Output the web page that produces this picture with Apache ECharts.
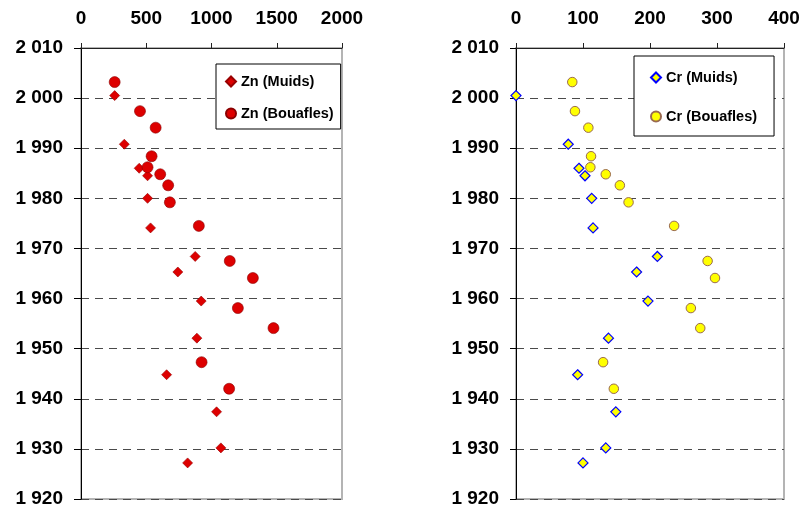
<!DOCTYPE html>
<html>
<head>
<meta charset="utf-8">
<script src="https://cdn.jsdelivr.net/npm/echarts@6/dist/echarts.min.js"></script>
<style>
html,body{margin:0;padding:0;background:#fff;}
#chart{width:803px;height:511px;}
</style>
</head>
<body>
<div id="chart"></div>
<script>
// Sampling years (depth-dated sediment layers)
const yearsMuids = [2000.5, 1990.8, 1986.0, 1984.5, 1980.0, 1974.1, 1968.4, 1965.3, 1959.5, 1952.1, 1944.8, 1937.4, 1930.2, 1927.2];
const yearsBouafles = [2003.2, 1997.4, 1994.1, 1988.4, 1986.2, 1984.8, 1982.6, 1979.2, 1974.5, 1967.5, 1964.1, 1958.1, 1954.1, 1947.3, 1942.0];

// Zn concentrations
const znMuids = [258, 332, 446, 510, 510, 533, 875, 742, 921, 888, 656, 1039, 1072, 817];
const znBouafles = [258, 452, 572, 541, 510, 607, 668, 681, 903, 1140, 1317, 1202, 1475, 924, 1135];

// Cr concentrations
const crMuids = [0, 78, 94, 103, 113, 115, 211, 180, 197, 138, 92, 149, 134, 100];
const crBouafles = [84, 88, 108, 112, 111, 134, 155, 168, 236, 286, 297, 261, 275, 130, 146];

const seriesNames = ['Zn (Muids)', 'Zn (Bouafles)', 'Cr (Muids)', 'Cr (Bouafles)'];

// Tick labels
const yTicks = [1920, 1930, 1940, 1950, 1960, 1970, 1980, 1990, 2000, 2010];
const yTickLabels = ['1 920', '1 930', '1 940', '1 950', '1 960', '1 970', '1 980', '1 990', '2 000', '2 010'];
const znTicks = ['0', '500', '1000', '1500', '2000'];
const crTicks = ['0', '100', '200', '300', '400'];

function pairs(xs, ys) { return xs.map((v, i) => [v, ys[i]]); }

const font = '"Liberation Sans", Arial, sans-serif';
const tickFont = { fontFamily: font, fontWeight: 'bold', fontSize: 19, color: '#000' };

function yAxisDef(gridIndex, margin, tickLen) {
  return {
    type: 'value', gridIndex: gridIndex, min: 1920, max: 2010, interval: 10,
    axisLine: { show: true, lineStyle: { color: '#000', width: 1 } },
    axisTick: { show: true, inside: false, length: tickLen, lineStyle: { color: '#000' } },
    axisLabel: Object.assign({ margin: margin, showMinLabel: true, showMaxLabel: true,
      formatter: v => { const k = yTicks.indexOf(Math.round(v)); return k >= 0 ? yTickLabels[k] : ''; } }, tickFont),
    splitLine: { show: true, lineStyle: { color: '#4a4a4a', width: 1, type: [8, 6] } }
  };
}
function xAxisDef(gridIndex, max, interval, labels) {
  return {
    type: 'value', gridIndex: gridIndex, position: 'top', min: 0, max: max, interval: interval,
    axisLine: { show: true, onZero: false, lineStyle: { color: '#222', width: 1 } },
    axisTick: { show: true, inside: false, length: 5, lineStyle: { color: '#222' } },
    axisLabel: Object.assign({ margin: 20, showMinLabel: true, showMaxLabel: true,
      formatter: v => { const k = Math.round(v / interval); return labels[k] !== undefined ? labels[k] : ''; } }, tickFont),
    splitLine: { show: false }
  };
}

const legendText = { fontFamily: font, fontWeight: 'bold', fontSize: 14.5, color: '#000', lineHeight: 14 };

const chart = echarts.init(document.getElementById('chart'), null, { renderer: 'canvas' });
chart.setOption({
  animation: false,
  backgroundColor: '#fff',
  grid: [
    { left: 81, top: 48, width: 261, height: 451, show: true, borderColor: '#b4b4b4', borderWidth: 2, backgroundColor: 'transparent' },
    { left: 516, top: 48, width: 268, height: 451, show: true, borderColor: '#b4b4b4', borderWidth: 2, backgroundColor: 'transparent' }
  ],
  xAxis: [
    xAxisDef(0, 2000, 500, znTicks),
    xAxisDef(1, 400, 100, crTicks)
  ],
  yAxis: [
    yAxisDef(0, 18, 7),
    yAxisDef(1, 17, 6)
  ],
  legend: [
    {
      data: [seriesNames[0], seriesNames[1]], orient: 'vertical', left: 216, top: 64,
      padding: [10, 7, 8, 9], itemWidth: 10, itemHeight: 10, itemGap: 17,
      borderColor: '#000', borderWidth: 1, backgroundColor: '#fff', selectedMode: false,
      textStyle: legendText
    },
    {
      data: [seriesNames[2], seriesNames[3]], orient: 'vertical', left: 634, top: 56,
      padding: [14, 17, 12, 16], itemWidth: 10, itemHeight: 10, itemGap: 24,
      borderColor: '#000', borderWidth: 1, backgroundColor: '#fff', selectedMode: false,
      textStyle: legendText
    }
  ],
  series: [
    { name: seriesNames[0], type: 'scatter', xAxisIndex: 0, yAxisIndex: 0, symbol: 'diamond', symbolSize: 10,
      itemStyle: { color: '#dd0000', borderColor: '#990000', borderWidth: 0.6, opacity: 1 }, data: pairs(znMuids, yearsMuids) },
    { name: seriesNames[1], type: 'scatter', xAxisIndex: 0, yAxisIndex: 0, symbol: 'circle', symbolSize: 11,
      itemStyle: { color: '#dd0000', borderColor: '#8a0000', borderWidth: 0.6, opacity: 1 }, data: pairs(znBouafles, yearsBouafles) },
    { name: seriesNames[2], type: 'scatter', xAxisIndex: 1, yAxisIndex: 1, symbol: 'diamond', symbolSize: 10,
      itemStyle: { color: '#ffff00', borderColor: '#0000ff', borderWidth: 1.2, opacity: 1 }, data: pairs(crMuids, yearsMuids) },
    { name: seriesNames[3], type: 'scatter', xAxisIndex: 1, yAxisIndex: 1, symbol: 'circle', symbolSize: 9.5,
      itemStyle: { color: '#ffff00', borderColor: '#9a6a50', borderWidth: 1, opacity: 1 }, data: pairs(crBouafles, yearsBouafles) }
  ]
});
</script>
</body>
</html>
